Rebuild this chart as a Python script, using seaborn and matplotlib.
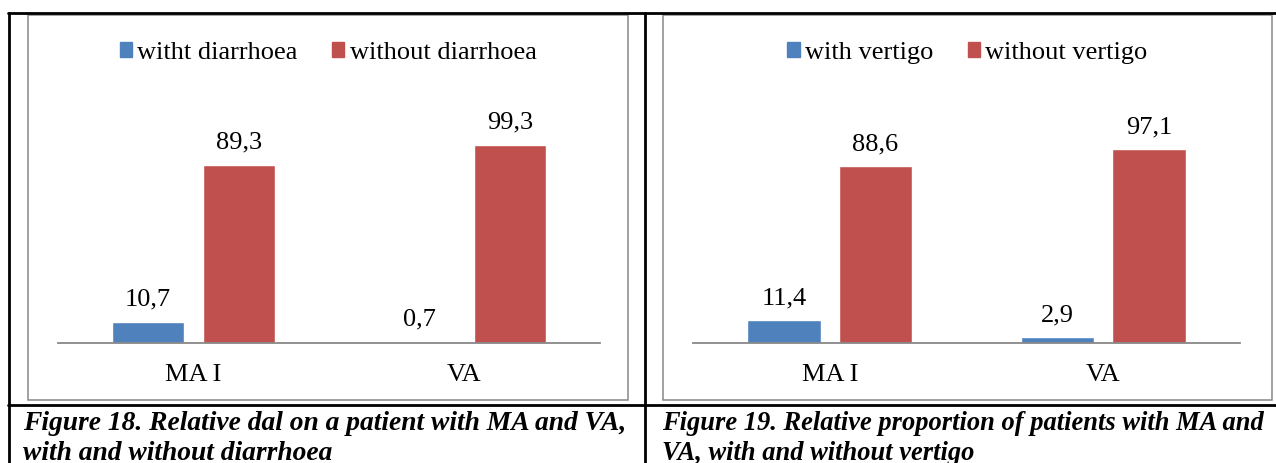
import pandas as pd
import matplotlib
matplotlib.use("Agg")
import matplotlib.pyplot as plt
from matplotlib.lines import Line2D
from matplotlib.patches import Rectangle
from matplotlib.patches import Patch
import seaborn as sns

# Datos de las dos figuras
grupos = ["MA I", "VA"]
diarrea_con = [10.7, 0.7]
diarrea_sin = [89.3, 99.3]
vertigo_con = [11.4, 2.9]
vertigo_sin = [88.6, 97.1]

leyenda_18 = ["witht diarrhoea", "without diarrhoea"]
leyenda_19 = ["with vertigo", "without vertigo"]
titulo_18 = ["Figure 18. Relative dal on a patient with MA and VA,",
             "with and without diarrhoea"]
titulo_19 = ["Figure 19. Relative proportion of patients with MA and",
             "VA, with and without vertigo"]

azul = "#4F81BD"
rojo = "#C0504D"
gris = "#888888"

sns.set_theme(style="white")
plt.rcParams["font.family"] = ["Liberation Serif", "DejaVu Serif"]
plt.rcParams["text.color"] = "black"
plt.rcParams["xtick.color"] = "black"

W, H = 1276, 463
fig = plt.figure(figsize=(W / 100, H / 100), dpi=100)


def fx(x):
    return x / W


def fy(y):
    return 1 - y / H


def tabla(df_con, df_sin, nombres):
    filas = []
    for g, a, b in zip(grupos, df_con, df_sin):
        filas.append({"grupo": g, "estado": nombres[0], "valor": a})
        filas.append({"grupo": g, "estado": nombres[1], "valor": b})
    return pd.DataFrame(filas)


def panel(x0, x1, datos, nombres, marco):
    ax = fig.add_axes([fx(x0), fy(343), fx(x1) - fx(x0), (110 * 1.995) / H])
    sns.barplot(data=datos, x="grupo", y="valor", hue="estado",
                palette=[azul, rojo], width=0.67, gap=0.2, ax=ax,
                saturation=1, legend=False)
    ax.set_ylim(0, 110)
    ax.set_xlim(-0.5, 1.5)
    for cont in ax.containers:
        etiquetas = [f"{v:.1f}".replace(".", ",") for v in cont.datavalues]
        ax.bar_label(cont, labels=etiquetas, padding=8, fontsize=19)
    for lado in ["top", "left", "right"]:
        ax.spines[lado].set_visible(False)
    ax.spines["bottom"].set_color(gris)
    ax.spines["bottom"].set_linewidth(1.3)
    ax.set_yticks([])
    ax.set_xlabel("")
    ax.set_ylabel("")
    ax.tick_params(axis="x", length=0, pad=15, labelsize=19)
    manijas = [Patch(color=azul), Patch(color=rojo)]
    ax.legend(manijas, nombres, loc="center",
              bbox_to_anchor=((marco[0] + marco[1]) / 2 / W, fy(53)),
              bbox_transform=fig.transFigure, ncol=2, frameon=False,
              fontsize=19, handlelength=0.47, handleheight=0.47,
              handletextpad=0.2, columnspacing=1.3)
    # marco gris del gráfico
    fig.add_artist(Rectangle((fx(marco[0]), fy(400)),
                             fx(marco[1]) - fx(marco[0]), fy(15) - fy(400),
                             transform=fig.transFigure, fill=False,
                             edgecolor=gris, linewidth=1.1))
    return ax


panel(58, 600, tabla(diarrea_con, diarrea_sin, leyenda_18), leyenda_18, (28, 628))
panel(693, 1240, tabla(vertigo_con, vertigo_sin, leyenda_19), leyenda_19, (663, 1272))

# bordes negros de la tabla
negro = dict(color="black", linewidth=2.0, transform=fig.transFigure)
fig.add_artist(Line2D([fx(8), 1], [fy(12.5), fy(12.5)], **negro))
fig.add_artist(Line2D([fx(8), 1], [fy(405), fy(405)], **negro))
fig.add_artist(Line2D([fx(8.5), fx(8.5)], [fy(12.5), 0], **negro))
fig.add_artist(Line2D([fx(645), fx(645)], [fy(12.5), 0], **negro))

# pies de figura
for i, linea in enumerate(titulo_18):
    fig.text(fx(23), fy(423 + 30 * i), linea, fontsize=19.8,
             fontweight="bold", fontstyle="italic", va="center", ha="left")
for i, linea in enumerate(titulo_19):
    fig.text(fx(662), fy(423 + 30 * i), linea, fontsize=19.1,
             fontweight="bold", fontstyle="italic", va="center", ha="left")

plt.savefig("out.png", dpi=100)
